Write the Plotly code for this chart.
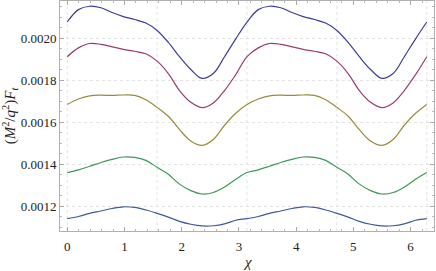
import plotly.graph_objects as go

chi = [0.0, 0.196, 0.393, 0.589, 0.785, 0.982, 1.178, 1.374, 1.571, 1.767, 1.963, 2.160, 2.356,
       2.553, 2.749, 2.945, 3.142, 3.338, 3.534, 3.731, 3.927, 4.123, 4.320, 4.516, 4.712,
       4.909, 5.105, 5.301, 5.498, 5.694, 5.890, 6.087, 6.283]

s1 = [0.002077, 0.002136, 0.002152, 0.002145, 0.002122, 0.002103, 0.002089, 0.002072, 0.002037,
      0.001980, 0.001912, 0.001851, 0.001809, 0.001832, 0.001912, 0.001997, 0.002077,
      0.002136, 0.002152, 0.002145, 0.002122, 0.002103, 0.002089, 0.002072, 0.002037,
      0.001980, 0.001912, 0.001851, 0.001809, 0.001832, 0.001912, 0.001997, 0.002077]
s2 = [0.001912, 0.001954, 0.001975, 0.001971, 0.001959, 0.001947, 0.001938, 0.001926, 0.001891,
      0.001832, 0.001751, 0.001695, 0.001670, 0.001692, 0.001751, 0.001827, 0.001912,
      0.001954, 0.001975, 0.001971, 0.001959, 0.001947, 0.001938, 0.001926, 0.001891,
      0.001832, 0.001751, 0.001695, 0.001670, 0.001692, 0.001751, 0.001827, 0.001912]
s3 = [0.001685, 0.001711, 0.001726, 0.001729, 0.001728, 0.001730, 0.001728, 0.001707, 0.001671,
      0.001629, 0.001565, 0.001511, 0.001490, 0.001518, 0.001586, 0.001643, 0.001685,
      0.001711, 0.001726, 0.001729, 0.001728, 0.001730, 0.001728, 0.001707, 0.001671,
      0.001629, 0.001565, 0.001511, 0.001490, 0.001518, 0.001586, 0.001643, 0.001685]
s4 = [0.001361, 0.001374, 0.001391, 0.001409, 0.001424, 0.001435, 0.001433, 0.001419, 0.001386,
      0.001353, 0.001306, 0.001275, 0.001259, 0.001266, 0.001292, 0.001329, 0.001361,
      0.001374, 0.001391, 0.001409, 0.001424, 0.001435, 0.001433, 0.001419, 0.001386,
      0.001353, 0.001306, 0.001275, 0.001259, 0.001266, 0.001292, 0.001329, 0.001361]
s5 = [0.001142, 0.001152, 0.001167, 0.001178, 0.001190, 0.001198, 0.001195, 0.001183, 0.001167,
      0.001149, 0.001129, 0.001115, 0.001107, 0.001108, 0.001117, 0.001134, 0.001142,
      0.001152, 0.001167, 0.001178, 0.001190, 0.001198, 0.001195, 0.001183, 0.001167,
      0.001149, 0.001129, 0.001115, 0.001107, 0.001108, 0.001117, 0.001134, 0.001142]

series = [s1, s2, s3, s4, s5]
colors = ["#3E3D99", "#993D71", "#998B3D", "#3D9956", "#3D5A99"]

y_ticks = [0.0012, 0.0014, 0.0016, 0.0018, 0.0020]
y_tick_text = ["0.0012", "0.0014", "0.0016", "0.0018", "0.0020"]
x_ticks = [0, 1, 2, 3, 4, 5, 6]
x_grid = [0.0, 1.5708, 3.1416, 4.7124, 6.2832]

SERIF = "Liberation Serif"

fig = go.Figure()
for s, c in zip(series, colors):
    fig.add_trace(go.Scatter(x=chi, y=s, mode="lines",
                             line=dict(color=c, width=1.2, shape="spline", smoothing=1.0),
                             showlegend=False, hoverinfo="skip"))

for gx in x_grid:
    fig.add_shape(type="line", xref="x", yref="paper", x0=gx, x1=gx, y0=0, y1=1,
                  line=dict(color="#e2e2e2", width=1, dash="3px,3px"), layer="below")

fig.update_layout(
    width=436, height=271,
    margin=dict(l=60, r=2, t=1, b=40),
    paper_bgcolor="white", plot_bgcolor="white",
    font=dict(family=SERIF, size=13, color="#222"),
    xaxis=dict(range=[-0.126, 6.409], tickvals=x_ticks, ticktext=[str(t) for t in x_ticks],
               tickfont=dict(family=SERIF, size=13, color="#222"),
               ticks="inside", ticklen=4, tickcolor="#a8a8a8", showgrid=False, zeroline=False,
               showline=True, linecolor="#b0b0b0", linewidth=1, mirror="ticks",
               minor=dict(dtick=0.2, tick0=0, ticks="inside", ticklen=2, tickcolor="#b8b8b8", showgrid=False),
               ticklabelstandoff=3),
    yaxis=dict(range=[0.001083, 0.002177], tickvals=y_ticks, ticktext=y_tick_text,
               tickfont=dict(family=SERIF, size=13, color="#222"),
               ticks="inside", ticklen=4, tickcolor="#a8a8a8", showgrid=True, gridcolor="#e2e2e2",
               griddash="3px,3px", gridwidth=1, zeroline=False,
               showline=True, linecolor="#b0b0b0", linewidth=1, mirror="ticks",
               minor=dict(dtick=0.00005, tick0=0.0012, ticks="inside", ticklen=2, tickcolor="#b8b8b8", showgrid=False),
               title=dict(text="(<i>M</i><sup>2</sup>/<i>q</i><sup>2</sup>)<i>F</i><sub><i>t</i></sub>",
                          font=dict(family=SERIF, size=15, color="#222"), standoff=6)),
    annotations=[
        dict(text="<i>χ</i>", xref="paper", yref="paper", x=0.5, y=-0.135, yanchor="middle",
             showarrow=False, font=dict(family=SERIF, size=15, color="#222")),
    ],
)

fig.write_html("out.html", config={"displayModeBar": False},
               post_script="document.body.style.margin='0';document.body.style.overflow='hidden';")
